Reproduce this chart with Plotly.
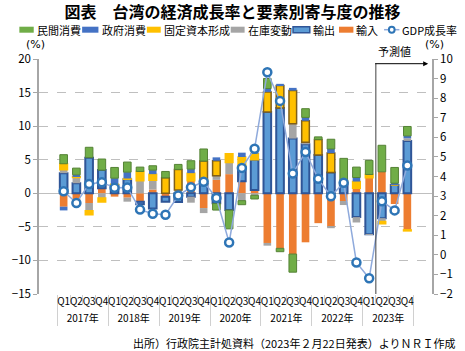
import plotly.graph_objects as go

years = ["2017年", "2018年", "2019年", "2020年", "2021年", "2022年", "2023年"]
quarters = ["Q1", "Q2", "Q3", "Q4"]

# contributions (percentage points), 2017Q1 .. 2023Q4
private_cons = [1.35, 1.0, 1.55, 1.65, 1.6, 1.5, 0.65, 0.65, 0.95, 0.75, 1.25, 1.8,
                -1.0, -2.8, -0.6, -0.55, 1.5, -0.5, -2.7, 1.3, 0.4, 1.45, 3.3, 1.55,
                2.1, 3.95, 2.35, 1.4]
gov_cons = [-0.55, 0.25, 0.0, 0.0, 0.9, 0.95, 0.0, 0.6, 0.0, 0.0, 0.6, 0.0,
            0.5, 0.0, 0.65, 0.35, 0.5, 0.25, 0.4, 0.5, 0.0, 0.6, 0.0, 0.6,
            0.0, 0.0, 0.25, 0.35]
fixed_cap = [0.9, 0.15, -0.6, -0.6, 0.1, 0.1, 1.4, 0.9, 2.3, 3.05, 1.15, 3.4,
             2.25, 1.3, 1.5, 0.9, 3.0, 3.35, 4.95, 3.2, 2.3, 2.9, 0.4, 1.0,
             0.5, -0.35, 0.0, -0.15]
inventory = [0.5, 0.85, -1.15, -0.7, 0.0, -0.6, 1.85, 1.4, 0.0, 0.5, -0.9, -0.75,
             0.6, 1.75, -1.1, -0.3, -0.4, 0.0, 2.2, 0.3, 0.0, -0.2, -0.6, -0.8,
             -0.1, -0.5, 0.0, 0.4]
exports = [3.0, 1.5, 5.3, 2.7, 1.25, 2.1, -0.4, -2.25, -0.75, -1.3, -0.5, 1.4,
           -1.5, -2.5, 2.1, 4.5, 12.1, 12.7, 8.15, 7.3, 5.7, 3.1, 1.5, -3.55,
           -6.1, -3.7, 1.25, 7.8]
imports = [-2.0, -1.1, -1.45, 0.75, -0.5, -0.65, -1.25, 0.55, -0.5, 0.0, 1.85, -2.2,
           2.0, 2.85, 1.8, 0.5, -7.4, -8.2, -9.05, -7.3, -4.45, -5.0, -1.15, 0.75,
           2.3, 3.2, -1.6, -5.45]
gdp_growth = [3.25, 2.65, 3.62, 3.71, 3.42, 3.44, 2.31, 2.1, 2.05, 3.03, 3.45, 3.73,
              2.9, 0.63, 4.44, 5.42, 9.32, 7.86, 4.15, 5.25, 3.88, 2.99, 3.68, -0.39,
              -1.2, 2.74, 2.27, 4.56]

x_year = [y for y in years for _ in quarters]
x_q = quarters * len(years)
xcat = [x_year, x_q]

FONT = "Noto Sans CJK JP, Noto Sans, sans-serif"
FONT_LAT = "DejaVu Sans, sans-serif"
C_GREEN = "#70AD47"
C_GOV = "#4472C4"
C_YEL = "#FFC000"
C_GRAY = "#A5A5A5"
C_EXP = "#5B9BD5"
C_EXP_LINE = "#2F5597"
C_ORG = "#ED7D31"
C_LINE = "#8FAADC"
C_MK = "#2E75B6"

BW = 0.6
fig = go.Figure()

fig.add_trace(go.Bar(x=xcat, y=imports, name="輸入", width=BW, showlegend=False,
                     marker=dict(color=C_ORG, line=dict(width=0))))
fig.add_trace(go.Bar(x=xcat, y=exports, name="輸出", width=BW, showlegend=False,
                     marker=dict(color=C_EXP, line=dict(width=2, color=C_EXP_LINE))))
fig.add_trace(go.Bar(x=xcat, y=inventory, name="在庫変動", width=BW, showlegend=False,
                     marker=dict(color=C_GRAY, line=dict(width=0))))
yel_line = ["#7F5F1A" if v >= 2 else C_YEL for v in fixed_cap]
fig.add_trace(go.Bar(x=xcat, y=fixed_cap, name="固定資本形成", width=BW, showlegend=False,
                     marker=dict(color=C_YEL, line=dict(width=1.5, color=yel_line))))
fig.add_trace(go.Bar(x=xcat, y=gov_cons, name="政府消費", width=BW, showlegend=False,
                     marker=dict(color=C_GOV, line=dict(width=0))))
fig.add_trace(go.Bar(x=xcat, y=private_cons, name="民間消費", width=BW, showlegend=False,
                     marker=dict(color=C_GREEN, line=dict(width=1, color="#548235"))))
fig.add_trace(go.Scatter(x=xcat, y=gdp_growth, name="GDP成長率", yaxis="y2",
                         mode="lines+markers", showlegend=False,
                         line=dict(color=C_LINE, width=1.5),
                         marker=dict(symbol="circle", size=8, color="white",
                                     line=dict(color=C_MK, width=2.5))))

# geometry helpers (pixel -> paper) for decorations
L, R, T, B = 27, 437, 59.3, 294.3
def px(xp):
    return (xp - L) / (R - L)
def py(yp):
    return (B - yp) / (B - T)

shapes = []
annotations = []

# manual legend (compact, Excel-like)
leg = [
    ("民間消費", "box", C_GREEN, None, 6.5, 21.5, 22.5),
    ("政府消費", "box", C_GOV, None, 72, 89, 90.5),
    ("固定資本形成", "box", C_YEL, None, 139.5, 154, 155),
    ("在庫変動", "box", C_GRAY, None, 227, 241.5, 242.5),
    ("輸出", "box", C_EXP, C_EXP_LINE, 292, 309.5, 311),
    ("輸入", "box", C_ORG, None, 340, 355, 356),
    ("GDP成長率", "line", C_LINE, C_MK, 387, 403, 404),
]
LY = 30
for name, kind, col, lc, x0, x1, tx in leg:
    if kind == "box":
        shapes.append(dict(type="rect", xref="paper", yref="paper",
                           x0=px(x0), x1=px(x1), y0=py(LY + 3), y1=py(LY - 3),
                           fillcolor=col,
                           line=dict(color=lc if lc else col, width=1.5 if lc else 0)))
    else:
        shapes.append(dict(type="line", xref="paper", yref="paper",
                           x0=px(x0), x1=px(x1), y0=py(LY), y1=py(LY),
                           line=dict(color=col, width=1.5)))
        shapes.append(dict(type="circle", xref="paper", yref="paper",
                           x0=px((x0 + x1) / 2 - 3), x1=px((x0 + x1) / 2 + 3),
                           y0=py(LY + 3), y1=py(LY - 3),
                           fillcolor="white", line=dict(color=lc, width=2)))
    annotations.append(dict(text=name, xref="paper", yref="paper", x=px(tx), y=py(LY),
                            xanchor="left", yanchor="middle", showarrow=False,
                            font=dict(size=11, color="#000000", family=FONT)))

# unit labels
annotations.append(dict(text="(%)", xref="paper", yref="paper", x=px(23), y=py(45),
                        xanchor="center", yanchor="middle", showarrow=False,
                        font=dict(size=11, color="#000", family=FONT_LAT)))
annotations.append(dict(text="(%)", xref="paper", yref="paper", x=px(440), y=py(45),
                        xanchor="center", yanchor="middle", showarrow=False,
                        font=dict(size=11, color="#000", family=FONT_LAT)))

# forecast marker
xf = 24 / 28
shapes.append(dict(type="line", xref="paper", yref="paper", x0=xf, x1=xf,
                   y0=0, y1=py(64), line=dict(color="#404040", width=1)))
annotations.append(dict(text="", xref="paper", yref="paper", x=px(433), y=py(64),
                        ax=-(433 - (L + xf * (R - L))), ay=0, axref="pixel", ayref="pixel",
                        showarrow=True, arrowhead=2, arrowsize=1, arrowwidth=1,
                        arrowcolor="#000000"))
annotations.append(dict(text="予測値", xref="paper", yref="paper", x=px(398), y=py(51),
                        xanchor="center", yanchor="middle", showarrow=False,
                        font=dict(size=11, color="#000", family=FONT)))

# source
annotations.append(dict(text="出所）行政院主計処資料（2023年２月22日発表）よりＮＲＩ作成",
                        xref="paper", yref="paper", x=px(463), y=py(343),
                        xanchor="right", yanchor="middle", showarrow=False,
                        font=dict(size=11, color="#000", family=FONT)))

fig.update_layout(
    width=465, height=351,
    margin=dict(l=L, r=465 - R, t=T, b=351 - B, pad=0),
    paper_bgcolor="white", plot_bgcolor="white",
    barmode="relative",
    font=dict(family=FONT, color="#000000", size=11),
    title=dict(text="<b>図表　台湾の経済成長率と要素別寄与度の推移</b>",
               x=0.5, xref="container", xanchor="center",
               y=1 - 12 / 351, yref="container", yanchor="middle",
               font=dict(size=16, family=FONT, color="#000")),
    xaxis=dict(type="multicategory", showgrid=False, showline=False, zeroline=False,
               ticks="outside", ticklen=9, tickcolor="#D0D0D0", tickangle=0,
               tickfont=dict(size=10, family=FONT, color="#000"),
               dividercolor="#D0D0D0", dividerwidth=1),
    yaxis=dict(range=[-15, 20], dtick=5, showgrid=True, gridcolor="#BFBFBF",
               griddash="dash", gridwidth=1, zeroline=True, zerolinecolor="#BFBFBF",
               zerolinewidth=1, showline=True, linecolor="#A6A6A6", linewidth=1.5,
               ticks="outside", ticklen=4, tickcolor="#A6A6A6",
               tickfont=dict(size=11.5, family=FONT, color="#000")),
    yaxis2=dict(range=[-2, 10], dtick=1, overlaying="y", side="right",
                showgrid=False, zeroline=False, showline=True, linecolor="#A6A6A6",
                linewidth=1.5, ticks="outside", ticklen=4, tickcolor="#A6A6A6",
                tickfont=dict(size=11.5, family=FONT, color="#000")),
    shapes=shapes,
    annotations=annotations,
)

fig.write_html("out.html")
